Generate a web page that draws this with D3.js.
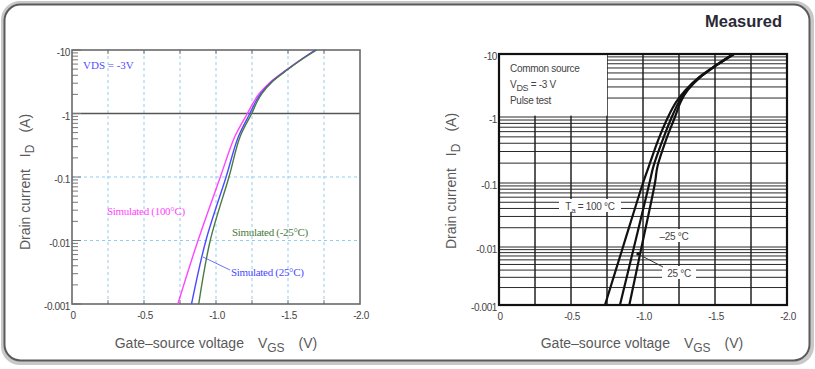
<!DOCTYPE html>
<html><head><meta charset="utf-8">
<script src="https://cdn.jsdelivr.net/npm/d3@7"></script>
<style>
body{margin:0;background:#fff;}
svg text{font-family:"Liberation Sans",Arial,sans-serif;}
</style></head>
<body><svg id="c" width="815" height="369"></svg>
<script>
// ---- shared axis data ----
const xTicks = [0, 0.5, 1.0, 1.5, 2.0];
const xTickLabels = ["0", "-0.5", "-1.0", "-1.5", "-2.0"];
const xGrid = [0.25, 0.5, 0.75, 1.0, 1.25, 1.5, 1.75];
const yTicks = [0.001, 0.01, 0.1, 1, 10];
const yTickLabels = ["-0.001", "-0.01", "-0.1", "-1", "-10"];
const decades = [0.001, 0.01, 0.1, 1];
const minorMult = [1, 2, 3, 4, 5, 6, 7, 8, 9];

// ---- left: simulated (|VGS| in V, |ID| in A) ----
const simI    = [0.001, 0.01, 0.1, 0.43, 1, 1.53, 2.08, 3.17, 4.84, 6.96, 10];
const simV100 = [0.735, 0.875, 1.03, 1.13, 1.218, 1.262, 1.302, 1.380, 1.487, 1.585, 1.69];
const simV25  = [0.83, 0.93, 1.07, 1.155, 1.235, 1.275, 1.312, 1.386, 1.490, 1.587, 1.69];
const simVm25 = [0.88, 0.96, 1.09, 1.167, 1.248, 1.285, 1.320, 1.391, 1.494, 1.590, 1.70];
const simNames = ["Simulated (100°C)", "Simulated (25°C)", "Simulated (-25°C)"];
const simColors = ["#ff44ff", "#4a4aff", "#4a7a40"];

// ---- right: measured ----
const measI    = [0.001, 0.01, 0.1, 0.177, 0.45, 1, 1.75, 2.69, 4.36, 6.7, 10];
const measV100 = [0.736, 0.861, 1.0, 1.04, 1.106, 1.174, 1.232, 1.296, 1.394, 1.51, 1.627];
const measV25  = [0.84, 0.9375, 1.045, 1.072, 1.137, 1.2, 1.25, 1.305, 1.40, 1.512, 1.63];
const measVm25 = [0.905, 0.99, 1.083, 1.10, 1.16, 1.222, 1.262, 1.312, 1.402, 1.515, 1.633];

const svg = d3.select("#c");

// outer frame
svg.append("rect").attr("x",3).attr("y",3).attr("width",809).attr("height",360)
  .attr("rx",17).attr("fill","none").attr("stroke","#c8c8c8").attr("stroke-width",4);
svg.append("rect").attr("x",4.5).attr("y",4.5).attr("width",805).attr("height",356)
  .attr("rx",16).attr("fill","#fff").attr("stroke","#5a5a5a").attr("stroke-width",2);

function minorValues(){
  const out=[];
  decades.forEach(d=>minorMult.forEach(k=>out.push(d*k)));
  out.push(10);
  return out;
}

function axisTitles(g, cx, yTitleX, cy){
  const xt = g.append("text").attr("x",cx).attr("y",348).attr("text-anchor","middle")
    .attr("fill","#5a5a5a").style("font-size","14px");
  xt.append("tspan").text("Gate–source voltage");
  xt.append("tspan").attr("dx",14).text("V");
  xt.append("tspan").attr("dy",4).style("font-size","12px").text("GS");
  xt.append("tspan").attr("dy",-4).attr("dx",14).text("(V)");
  const yt = g.append("text").attr("transform",`translate(${yTitleX},${cy}) rotate(-90)`)
    .attr("text-anchor","middle").attr("fill","#5a5a5a").style("font-size","14px");
  yt.append("tspan").text("Drain current");
  yt.append("tspan").attr("dx",12).text("I");
  yt.append("tspan").attr("dy",4).style("font-size","12px").text("D");
  yt.append("tspan").attr("dy",-4).attr("dx",12).text("(A)");
}

function tickLabels(g, x, y, left, bottom, labelRight){
  g.selectAll(".xl").data(xTicks).enter().append("text")
    .attr("x",(d)=>x(d)+1).attr("y",bottom+15).attr("text-anchor","middle")
    .attr("fill","#444").style("font-size","10px").style("letter-spacing","-0.4px")
    .text((d,i)=>xTickLabels[i]);
  g.selectAll(".yl").data(yTicks).enter().append("text")
    .attr("x",labelRight).attr("y",(d)=>y(d)+6).attr("text-anchor","end")
    .attr("fill","#444").style("font-size","10px").style("letter-spacing","-0.4px")
    .text((d,i)=>yTickLabels[i]);
}

// ================= LEFT PANEL =================
(function(){
  const g = svg.append("g");
  const x = d3.scaleLinear().domain([0,2]).range([72,360]);
  const y = d3.scaleLog().domain([0.001,10]).range([304,50]);
  const L=x(0), R=x(2), T=y(10), B=y(0.001);

  g.selectAll(".gv").data(xGrid).enter().append("line")
    .attr("x1",d=>x(d)).attr("x2",d=>x(d)).attr("y1",T).attr("y2",B)
    .attr("stroke","#93cdf0").attr("stroke-width",1).attr("stroke-dasharray","3,3");
  g.selectAll(".gh").data([0.01,0.1]).enter().append("line")
    .attr("x1",L).attr("x2",R).attr("y1",d=>y(d)).attr("y2",d=>y(d))
    .attr("stroke","#93cdf0").attr("stroke-width",1).attr("stroke-dasharray","3,3");
  g.append("line").attr("x1",L).attr("x2",R).attr("y1",y(1)).attr("y2",y(1))
    .attr("stroke","#555").attr("stroke-width",1.6);
  g.selectAll(".tt").data(xGrid).enter().append("line")
    .attr("x1",d=>x(d)).attr("x2",d=>x(d)).attr("y1",T).attr("y2",T+4)
    .attr("stroke","#777").attr("stroke-width",1);
  g.selectAll(".bt").data(xGrid).enter().append("line")
    .attr("x1",d=>x(d)).attr("x2",d=>x(d)).attr("y1",B).attr("y2",B-4)
    .attr("stroke","#777").attr("stroke-width",1);
  g.selectAll(".mt").data(minorValues()).enter().append("line")
    .attr("x1",L).attr("x2",d=>{const m=d/Math.pow(10,Math.floor(Math.log10(d)+1e-9));return L+(Math.abs(m-1)<1e-6?9:6);})
    .attr("y1",d=>y(d)).attr("y2",d=>y(d))
    .attr("stroke","#777").attr("stroke-width",1);
  g.append("rect").attr("x",L).attr("y",T).attr("width",R-L).attr("height",B-T)
    .attr("fill","none").attr("stroke","#6a6a6a").attr("stroke-width",1.6);

  const line = d3.line().x(d=>x(d[0])).y(d=>y(d[1])).curve(d3.curveCatmullRom.alpha(0.5));
  [simV100, simV25, simVm25].forEach((vs,i)=>{
    g.append("path").datum(vs.map((v,j)=>[v,simI[j]])).attr("d",line)
      .attr("fill","none").attr("stroke",simColors[i]).attr("stroke-width",1.4);
  });

  const serif = "'Liberation Serif','Times New Roman',serif";
  g.append("text").attr("x",83).attr("y",69).attr("fill","#5050ff")
    .style("font-family",serif).style("font-size","11px").text("VDS = -3V");
  g.append("text").attr("x",107).attr("y",215).attr("fill",simColors[0])
    .style("font-family",serif).style("font-size","11px").style("letter-spacing","-0.3px").text(simNames[0]);
  g.append("text").attr("x",232).attr("y",236).attr("fill",simColors[2])
    .style("font-family",serif).style("font-size","11px").style("letter-spacing","-0.3px").text(simNames[2]);
  g.append("text").attr("x",231).attr("y",276).attr("fill",simColors[1])
    .style("font-family",serif).style("font-size","11px").style("letter-spacing","-0.3px").text(simNames[1]);
  g.append("line").attr("x1",x(0.91)).attr("y1",y(0.0055)).attr("x2",230).attr("y2",270)
    .attr("stroke",simColors[1]).attr("stroke-width",0.8);

  tickLabels(g, x, y, L, B, 70);
  axisTitles(g, 216, 30, 182);
})();

// ================= RIGHT PANEL =================
(function(){
  const g = svg.append("g");
  const x = d3.scaleLinear().domain([0,2]).range([499,787]);
  const yl = d3.scaleLinear().domain([-3,-2,-1,0,1]).range([305,247,183,117,54]);
  const y = v => yl(Math.log10(v));
  const L=x(0), R=x(2), T=y(10), B=y(0.001);

  g.selectAll(".hg").data(minorValues()).enter().append("line")
    .attr("x1",L).attr("x2",R).attr("y1",d=>y(d)).attr("y2",d=>y(d))
    .attr("stroke","#2a2a2a").attr("stroke-width",1);
  g.selectAll(".vg").data(xGrid).enter().append("line")
    .attr("x1",d=>x(d)).attr("x2",d=>x(d)).attr("y1",T).attr("y2",B)
    .attr("stroke","#222").attr("stroke-width",1.5);
  g.append("rect").attr("x",L).attr("y",T).attr("width",x(0.75)-L).attr("height",y(1.05)-T)
    .attr("fill","#fff");
  const lt = g.append("g").attr("fill","#444").style("font-size","10px").style("letter-spacing","-0.3px");
  lt.append("text").attr("x",510).attr("y",72).text("Common source");
  const vds = lt.append("text").attr("x",510).attr("y",88);
  vds.append("tspan").text("V");
  vds.append("tspan").attr("dy",3).style("font-size","9px").text("DS");
  vds.append("tspan").attr("dy",-3).text(" = -3 V");
  lt.append("text").attr("x",510).attr("y",104).text("Pulse test");

  const line = d3.line().x(d=>x(d[0])).y(d=>y(d[1])).curve(d3.curveCatmullRom.alpha(0.5));
  [measV100, measV25, measVm25].forEach(vs=>{
    g.append("path").datum(vs.map((v,j)=>[v,measI[j]])).attr("d",line)
      .attr("fill","none").attr("stroke","#111").attr("stroke-width",2.2);
  });

  g.append("rect").attr("x",L).attr("y",T).attr("width",R-L).attr("height",B-T)
    .attr("fill","none").attr("stroke","#111").attr("stroke-width",2.2);

  function boxLabel(cx, cy, w, build){
    g.append("rect").attr("x",cx-w/2).attr("y",cy-7).attr("width",w).attr("height",13).attr("fill","#fff");
    const t = g.append("text").attr("x",cx).attr("y",cy+4).attr("text-anchor","middle")
      .attr("fill","#444").style("font-size","10px").style("letter-spacing","-0.3px");
    build(t);
  }
  boxLabel(590, 206, 62, t=>{
    t.append("tspan").text("T");
    t.append("tspan").attr("dy",3).style("font-size","8px").text("a");
    t.append("tspan").attr("dy",-3).text(" = 100 °C");
  });
  boxLabel(674, 236, 38, t=>t.text("–25 °C"));
  boxLabel(679, 273, 34, t=>t.text("25 °C"));
  g.append("line").attr("x1",x(0.965)).attr("y1",y(0.0076)).attr("x2",663).attr("y2",267)
    .attr("stroke","#333").attr("stroke-width",1);
  g.append("circle").attr("cx",x(0.965)).attr("cy",y(0.0076)).attr("r",1.6).attr("fill","#111");

  tickLabels(g, x, y, L, B, 497);
  axisTitles(g, 642, 456, 181);

  g.append("text").attr("x",782).attr("y",27).attr("text-anchor","end")
    .attr("fill","#2a2a35").style("font-size","16.5px").style("font-weight","bold").text("Measured");
})();
</script></body></html>
